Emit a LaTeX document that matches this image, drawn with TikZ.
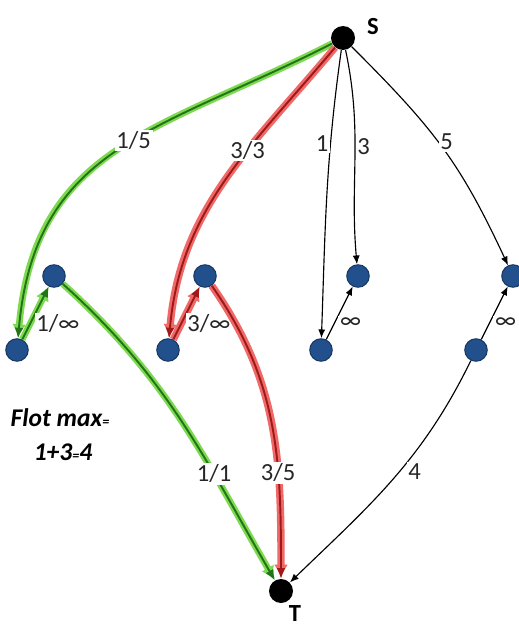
\documentclass[tikz,border=0pt]{standalone}
\usepackage{fontspec}
\setmainfont{Carlito}
\usetikzlibrary{arrows.meta}
\definecolor{bleunoeud}{RGB}{33,80,140}
\definecolor{vertclair}{RGB}{125,218,80}
\definecolor{vertfonce}{RGB}{35,115,25}
\definecolor{rougeclair}{RGB}{240,105,105}
\definecolor{rougefonce}{RGB}{160,25,25}

\begin{document}
\begin{tikzpicture}[x=0.02cm, y=0.02cm,
  font=\fontsize{14}{16}\selectfont,
  extremite/.style={circle, fill=black, inner sep=0pt, minimum size=0.48cm},
  sommet/.style={circle, fill=bleunoeud, draw=bleunoeud!70!black,
                 line width=0.6pt, inner sep=0pt, minimum size=0.45cm},
  nomext/.style={font=\fontsize{14}{16}\selectfont\bfseries, inner sep=0pt},
  arc/.style={draw=black, line width=0.65pt, -{Latex[length=5pt,width=4pt]}},
  chemvert/.style={draw=vertfonce, line width=1.1pt, -{Latex[length=6pt,width=5pt]},
                   preaction={draw=vertclair, line width=3.8pt,
                              -{Latex[length=8pt,width=8pt]}}},
  chemrouge/.style={draw=rougefonce, line width=1.1pt, -{Latex[length=6pt,width=5pt]},
                    preaction={draw=rougeclair, line width=4.2pt,
                               -{Latex[length=8pt,width=8pt]}}},
  etiq/.style={fill=white, inner sep=1pt, text=black!85},
  titre/.style={font=\fontsize{14.5}{16}\selectfont\bfseries\itshape, inner sep=0pt},
]
\useasboundingbox (0,0) rectangle (518,-628);
% --- source et puits ---------------------------------------------------
\node[extremite] (S) at (343,-38) {};
\node[extremite] (T) at (281,-591) {};
\node[nomext] (nS) at (373,-27) {S};
\node[nomext] (nT) at (295,-614) {T};
% --- sommets intermediaires --------------------------------------------
\foreach \n/\x in {a/17,b/168,c/321,d/476} {
  \node[sommet] (\n1) at (\x,-350) {};
  \node[sommet] (\n2) at (\x+37,-276) {};
}
% --- arcs depuis S -------------------------------------------------------
\draw[chemvert] (S) to[out=207, in=85, looseness=1.15]
  node[etiq, pos=0.45] {1/5} (a1);
\draw[chemrouge] (S) to[out=230, in=85]
  node[etiq, pos=0.38] {3/3} (b1);
\draw[arc] (S) to[out=262, in=88]
  node[etiq, left, pos=0.31] {1} (c1);
\draw[arc] (S) to[out=-78, in=95]
  node[etiq, right, pos=0.45] {3} (c2);
\draw[arc] (S) to[out=-45, in=115, looseness=1.1]
  node[etiq, right, pos=0.47] {5} (d2);
% --- arcs internes -------------------------------------------------------
\draw[chemvert] (a1) -- node[etiq, right=2pt, pos=0.3] {1/∞} (a2);
\draw[chemrouge] (b1) -- node[etiq, right=2pt, pos=0.3] {3/∞} (b2);
\draw[arc] (c1) -- node[etiq, right=2pt, pos=0.3] {∞} (c2);
\draw[arc] (d1) -- node[etiq, right=2pt, pos=0.3] {∞} (d2);
% --- arcs vers T ---------------------------------------------------------
\draw[chemvert] (a2) to[out=-42, in=120]
  node[etiq, pos=0.68] {1/1} (T);
\draw[chemrouge] (b2) to[out=-55, in=90]
  node[etiq, pos=0.67] {3/5} (T);
\draw[arc] (d1) to[out=-116, in=44]
  node[etiq, right=4pt, pos=0.46] {4} (T);
% --- flot maximal --------------------------------------------------------
\node[titre] (flot) at (60,-418) {Flot max{\fontsize{8}{8}\selectfont=}};
\node[titre] (somme) at (63,-452) {1+3{\fontsize{8}{8}\selectfont=}4};
\end{tikzpicture}
\end{document}
